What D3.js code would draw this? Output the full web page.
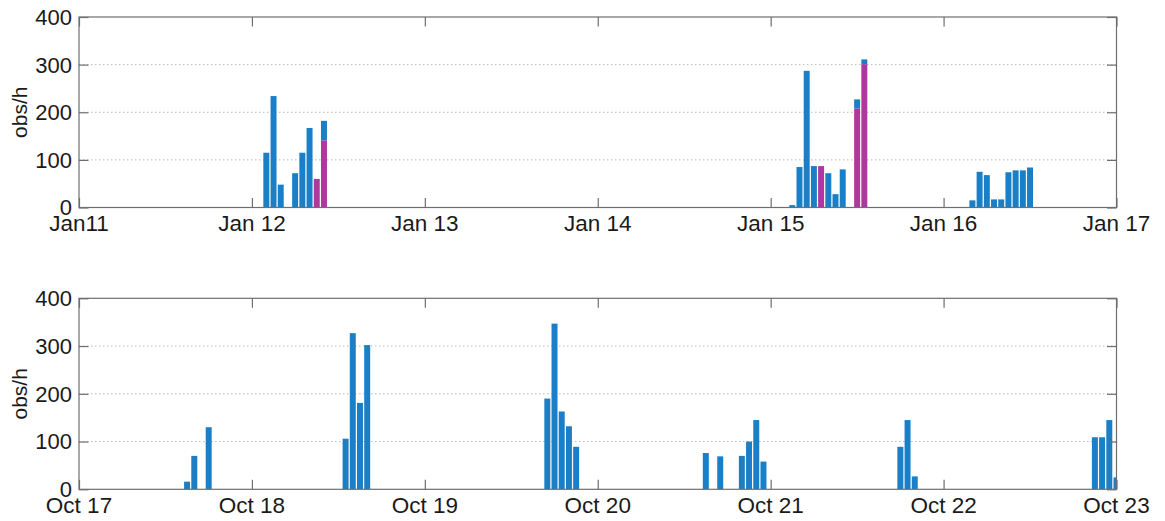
<!DOCTYPE html>
<html>
<head>
<meta charset="utf-8">
<script src="https://cdn.jsdelivr.net/npm/d3@7"></script>
<style>
  html, body { margin: 0; padding: 0; background: #fff; }
  svg { display: block; }
  text { font-family: "Liberation Sans", Arial, sans-serif; fill: #1a1a1a; }
</style>
</head>
<body>
<svg id="chart" width="1165" height="521"></svg>
<script>
// ---------- data ----------
// Top panel: hours after Jan 11 00:00
const topHours    = [26, 27, 28, 30, 31, 32, 33, 34,
                     99, 100, 101, 102, 103, 104, 105, 106, 108, 109,
                     124, 125, 126, 127, 128, 129, 130, 131, 132];
// lower (magenta) part of each stacked bar
const topMagenta  = [0, 0, 0, 0, 0, 0, 60, 141,
                     0, 0, 0, 0, 87, 0, 0, 0, 208, 301,
                     0, 0, 0, 0, 0, 0, 0, 0, 0];
// upper (blue) part of each stacked bar
const topBlue     = [115, 234, 48, 72, 115, 167, 0, 41,
                     5, 85, 287, 87, 0, 72, 28, 80, 19, 10,
                     15, 75, 68, 17, 17, 74, 78, 78, 84];
const topTickLabels = ["Jan11", "Jan 12", "Jan 13", "Jan 14", "Jan 15", "Jan 16", "Jan 17"];

// Bottom panel: hours after Oct 17 00:00
const bottomHours  = [15, 16, 18, 37, 38, 39, 40,
                      65, 66, 67, 68, 69,
                      87, 89, 92, 93, 94, 95,
                      114, 115, 116,
                      141, 142, 143, 144];
const bottomValues = [16, 70, 130, 106, 327, 181, 302,
                      190, 347, 163, 132, 89,
                      76, 69, 70, 100, 145, 58,
                      89, 145, 27,
                      109, 109, 145, 25];
const bottomTickLabels = ["Oct 17", "Oct 18", "Oct 19", "Oct 20", "Oct 21", "Oct 22", "Oct 23"];

const yTicks = [0, 100, 200, 300, 400];
const yLabel = "obs/h";

// ---------- styling ----------
const BLUE = "#1a7fc6";
const MAGENTA = "#b0379f";
const AXIS = "#6e6e6e";
const GRID = "#b8b8b8";
const XFONT = 22.5;
const YFONT = 22;
const LFONT = 21;

const svg = d3.select("#chart");
const left = 79, right = 1116.5;

const topStart = new Date(2000, 0, 11);
const bottomStart = new Date(2000, 9, 17);

function panel(opts) {
  const g = svg.append("g");
  const x = d3.scaleTime()
    .domain([opts.start, d3.timeDay.offset(opts.start, 6)])
    .range([left, right]);
  const y = d3.scaleLinear().domain([0, 400]).range([opts.bottom, opts.top]);
  const days = d3.range(7).map(i => d3.timeDay.offset(opts.start, i));
  const slot = x(d3.timeHour.offset(opts.start, 1)) - x(opts.start);
  const bw = slot * 0.83;

  const clipId = "clip" + opts.id;
  g.append("clipPath").attr("id", clipId)
    .append("rect").attr("x", left).attr("y", opts.top)
    .attr("width", right - left).attr("height", opts.bottom - opts.top);

  // grid
  g.append("g").selectAll("line").data(yTicks.filter(t => t > 0 && t < 400))
    .join("line")
    .attr("x1", left).attr("x2", right)
    .attr("y1", d => y(d)).attr("y2", d => y(d))
    .attr("stroke", GRID).attr("stroke-width", 1)
    .attr("stroke-dasharray", "1.5,2.5");

  // bars
  const bars = g.append("g").attr("clip-path", `url(#${clipId})`);
  opts.series.forEach(s => {
    bars.append("g").selectAll("rect").data(s.rows)
      .join("rect")
      .attr("x", d => x(d.t) - bw / 2)
      .attr("width", bw)
      .attr("y", d => y(d.y1))
      .attr("height", d => Math.max(0, y(d.y0) - y(d.y1)))
      .attr("fill", s.color);
  });

  // box
  g.append("rect").attr("x", left).attr("y", opts.top)
    .attr("width", right - left).attr("height", opts.bottom - opts.top)
    .attr("fill", "none").attr("stroke", AXIS).attr("stroke-width", 1.2);

  const tl = 9.5;
  const yAxisL = d3.axisLeft(y).tickValues(yTicks).tickSize(-tl).tickFormat("");
  const yAxisR = d3.axisRight(y).tickValues(yTicks).tickSize(-tl).tickFormat("");
  const xAxisB = d3.axisBottom(x).tickValues(days).tickSize(-tl).tickFormat("");
  const xAxisT = d3.axisTop(x).tickValues(days).tickSize(-tl).tickFormat("");
  [[yAxisL, `translate(${left},0)`], [yAxisR, `translate(${right},0)`],
   [xAxisB, `translate(0,${opts.bottom})`], [xAxisT, `translate(0,${opts.top})`]]
    .forEach(([ax, tr]) => {
      const a = g.append("g").attr("transform", tr).call(ax);
      a.select(".domain").remove();
      a.selectAll("line").attr("stroke", AXIS).attr("stroke-width", 1.2);
    });

  // y tick labels
  g.append("g").selectAll("text").data(yTicks).join("text")
    .attr("x", left - 7).attr("y", d => y(d))
    .attr("dy", "0.36em")
    .attr("text-anchor", "end")
    .attr("font-size", YFONT)
    .text(d => d);

  // x tick labels
  g.append("g").selectAll("text").data(days).join("text")
    .attr("x", d => x(d)).attr("y", opts.bottom + 23.5)
    .attr("text-anchor", "middle")
    .attr("font-size", XFONT)
    .text((d, i) => opts.tickLabels[i]);

  // y label
  g.append("text")
    .attr("transform", `translate(${27},${(opts.top + opts.bottom) / 2}) rotate(-90)`)
    .attr("text-anchor", "middle")
    .attr("font-size", LFONT)
    .text(yLabel);
}

// top panel: stacked series
const topRows = topHours.map((h, i) => ({ t: d3.timeHour.offset(topStart, h), magenta: topMagenta[i], blue: topBlue[i] }));
const stack = d3.stack().keys(["magenta", "blue"])(topRows);
const topSeries = stack.map(layer => ({
  color: layer.key === "magenta" ? MAGENTA : BLUE,
  rows: layer.map(p => ({ t: p.data.t, y0: p[0], y1: p[1] })).filter(r => r.y1 > r.y0)
}));

panel({
  id: "top", start: topStart, top: 17, bottom: 207.5,
  tickLabels: topTickLabels, series: topSeries
});

const bottomRows = bottomHours.map((h, i) => ({ t: d3.timeHour.offset(bottomStart, h), y0: 0, y1: bottomValues[i] }));
panel({
  id: "bottom", start: bottomStart, top: 298.3, bottom: 489.3,
  tickLabels: bottomTickLabels, series: [{ color: BLUE, rows: bottomRows }]
});
</script>
</body>
</html>
